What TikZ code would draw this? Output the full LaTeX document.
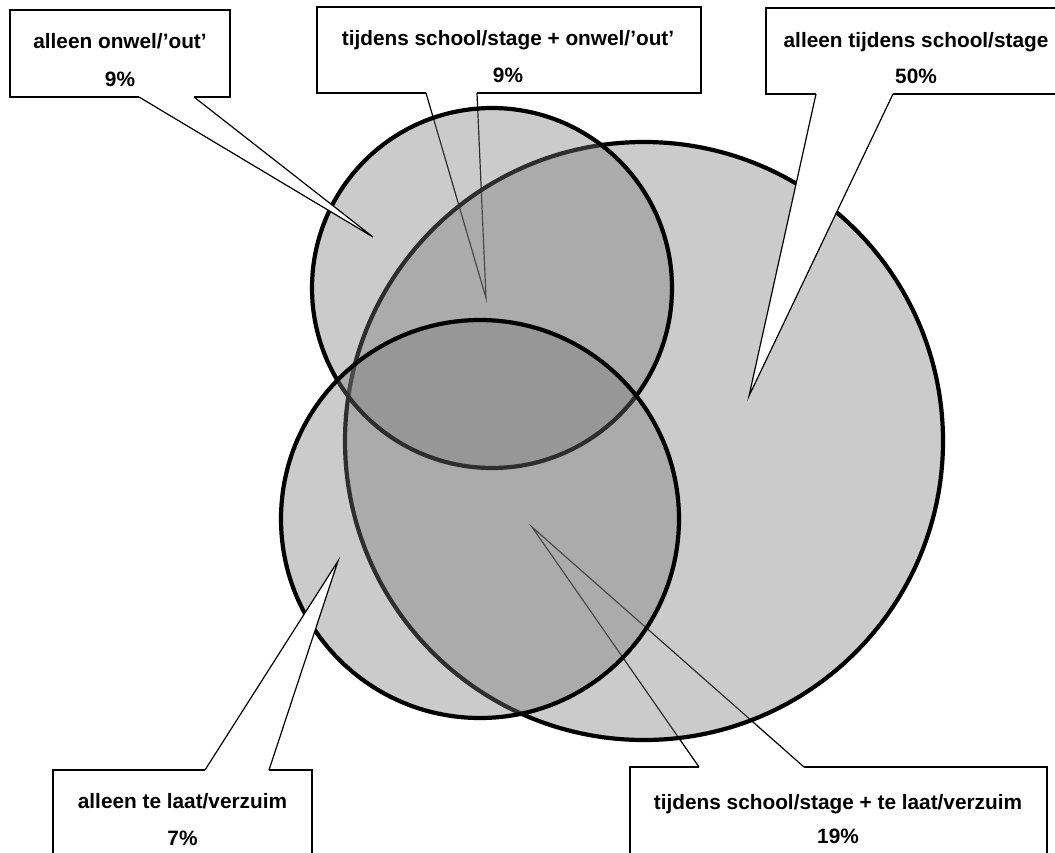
\documentclass[tikz,border=0pt]{standalone}
\usepackage{fontspec}
\setmainfont{Liberation Sans}
\definecolor{vgray}{gray}{0.47}
\begin{document}
\begin{tikzpicture}[x=1pt,y=-1pt,
  box/.style={draw=black, line width=1.2pt, fill=white, inner sep=0pt},
  lbl/.style={font=\bfseries\fontsize{20.8}{22}\selectfont, inner sep=0pt, anchor=base},
  venn/.style={fill=vgray, fill opacity=0.385, draw=black, line width=4.2pt},
  wedgeline/.style={draw=black, line width=1.2pt}]
\useasboundingbox (0,0) rectangle (1055,852);
\clip (0,0) rectangle (1055,852);
\fill[white] (0,0) rectangle (1055,852);

% ---- callouts lying under the circles
\node[box, minimum width=384pt, minimum height=86pt] (b2) at (509,50) {};
\node[lbl] (t2a) at (508,45) {tijdens school/stage + onwel/’out’};
\node[lbl] (t2b) at (508,82) {9\%};
\coordinate (w2a) at (426,93); \coordinate (w2b) at (477,93); \coordinate (tip2) at (486,298);
\fill[white] (w2a) -- (tip2) -- (w2b) -- ([yshift=1.5pt]w2b) -- ([yshift=1.5pt]w2a) -- cycle;
\draw[wedgeline] (w2a) -- (tip2) -- (w2b);

\node[box, minimum width=417pt, minimum height=133pt] (b5) at (838.5,833.5) {};
\node[lbl] (t5a) at (838,809) {tijdens school/stage + te laat/verzuim};
\node[lbl] (t5b) at (838,843) {19\%};
\coordinate (w5a) at (699,767); \coordinate (w5b) at (804,767); \coordinate (tip5) at (532,527);
\fill[white] (w5a) -- (tip5) -- (w5b) -- ([yshift=-1.5pt]w5b) -- ([yshift=-1.5pt]w5a) -- cycle;
\draw[wedgeline] (w5a) -- (tip5) -- (w5b);

% ---- Venn circles
\draw[venn] (644,441) circle[radius=299pt];
\draw[venn] (492,288) circle[radius=180pt];
\draw[venn] (480,519) circle[radius=199pt];

% ---- callouts lying over the circles
\node[box, minimum width=220pt, minimum height=87pt] (b1) at (120,53.5) {};
\node[lbl] (t1a) at (120,48) {alleen onwel/’out’};
\node[lbl] (t1b) at (120,86) {9\%};
\coordinate (w1a) at (139,97); \coordinate (w1b) at (194,97); \coordinate (tip1) at (373,237);
\fill[white] (w1a) -- (tip1) -- (w1b) -- ([yshift=1.5pt]w1b) -- ([yshift=1.5pt]w1a) -- cycle;
\draw[wedgeline] (w1a) -- (tip1) -- (w1b);

\node[box, minimum width=309pt, minimum height=86pt] (b3) at (920.5,51) {};
\node[lbl] (t3a) at (916,47) {alleen tijdens school/stage};
\node[lbl] (t3b) at (916,83) {50\%};
\coordinate (w3a) at (816,94); \coordinate (w3b) at (893,94); \coordinate (tip3) at (749,396);
\fill[white] (w3a) -- (tip3) -- (w3b) -- ([yshift=1.5pt]w3b) -- ([yshift=1.5pt]w3a) -- cycle;
\draw[wedgeline] (w3a) -- (tip3) -- (w3b);

\node[box, minimum width=259pt, minimum height=130pt] (b4) at (182.5,835) {};
\node[lbl] (t4a) at (182.5,808) {alleen te laat/verzuim};
\node[lbl] (t4b) at (182.5,845) {7\%};
\coordinate (w4a) at (205,770); \coordinate (w4b) at (269,770); \coordinate (tip4) at (338,561);
\fill[white] (w4a) -- (tip4) -- (w4b) -- ([yshift=-1.5pt]w4b) -- ([yshift=-1.5pt]w4a) -- cycle;
\draw[wedgeline] (w4a) -- (tip4) -- (w4b);
\end{tikzpicture}
\end{document}
